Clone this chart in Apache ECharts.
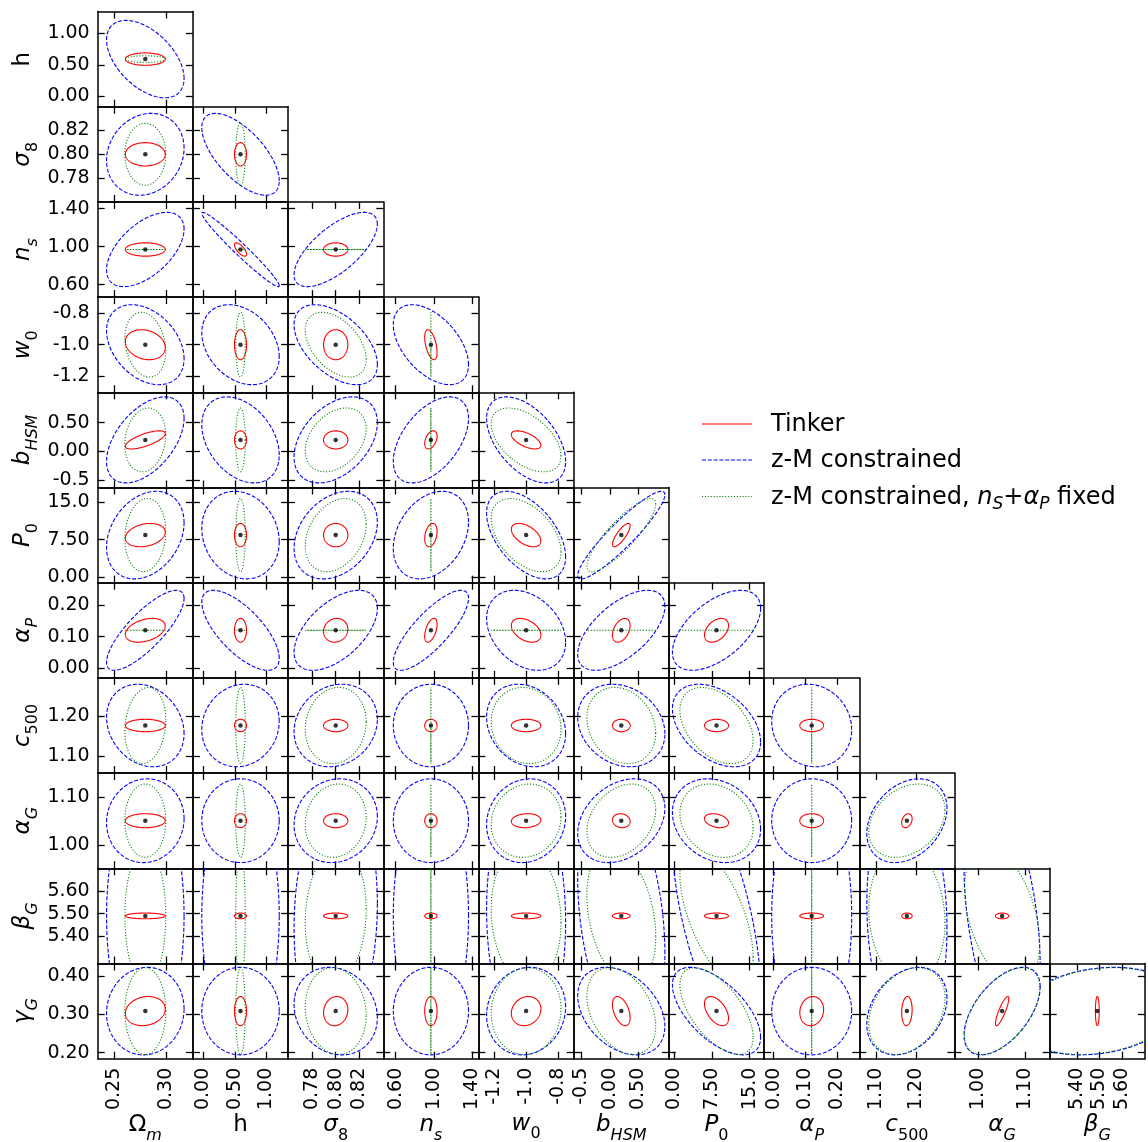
<!DOCTYPE html>
<html>
<head>
<meta charset="utf-8">
<script src="https://cdn.jsdelivr.net/npm/echarts@6/dist/echarts.min.js"></script>
<style>
  html, body { margin: 0; padding: 0; background: #fff; }
  #chart { width: 1148px; height: 1142px; }
</style>
</head>
<body>
<div id="chart"></div>
<script>
// ---- parameters of the forecast (order of the triangle) ----
const paramNames = [
  '{b|Ω}{si|m}', '{b|h}', '{i|σ}{s|8}', '{i|n}{si|s}', '{i|w}{s|0}', '{i|b}{si|HSM}',
  '{i|P}{s|0}', '{i|α}{si|P}', '{i|c}{s|500}', '{i|α}{si|G}', '{i|β}{si|G}', '{i|γ}{si|G}'
];
const fiducial  = [0.28, 0.59, 0.80, 0.97, -1.0, 0.2, 8.4, 0.12, 1.177, 1.051, 5.4905, 0.3081];
const halfRange = [0.0463, 0.75, 0.040, 0.50, 0.30, 0.83, 9.5, 0.15, 0.12, 0.10, 0.21, 0.124];

const tickValues = [
  [0.25, 0.30], [0, 0.5, 1.0], [0.78, 0.80, 0.82], [0.6, 1.0, 1.4], [-1.2, -1.0, -0.8],
  [-0.5, 0, 0.5], [0, 7.5, 15], [0, 0.1, 0.2], [1.1, 1.2], [1.0, 1.1], [5.4, 5.5, 5.6], [0.2, 0.3, 0.4]
];
const tickLabels = [
  ['0.25', '0.30'], ['0.00', '0.50', '1.00'], ['0.78', '0.80', '0.82'], ['0.60', '1.00', '1.40'],
  ['-1.2', '-1.0', '-0.8'], ['-0.5', '0.00', '0.50'], ['0.00', '7.50', '15.0'], ['0.00', '0.10', '0.20'],
  ['1.10', '1.20'], ['1.00', '1.10'], ['5.40', '5.50', '5.60'], ['0.20', '0.30', '0.40']
];

// ---- contour half-extents (x: parameter on the horizontal axis, y: on the vertical axis) ----
const tinkerSpreadX = [0.0194, 0.095, 0.0102, 0.065, 0.093, 0.154, 2.4, 0.0375, 0.0132, 0.014, 0.0084, 0.038];
const tinkerSpreadY = [0.0194, 0.0975, 0.0098, 0.070, 0.0945, 0.158, 2.33, 0.0375, 0.0156, 0.0147, 0.0126, 0.038];
const zmSpreadX     = [0.0377, 0.61, 0.035, 0.395, 0.249, 0.76, 8.8, 0.126, 0.101, 0.080, 0.37, 0.114];
const zmSpreadY     = [0.0377, 0.61, 0.0344, 0.39, 0.252, 0.75, 8.74, 0.126, 0.104, 0.088, 0.55, 0.114];
const fixedSpreadX  = [0.0199, 0.075, 0.0256, 0, 0.22, 0.60, 7.3, 0, 0.096, 0.079, 0.357, 0.113];
const fixedSpreadY  = [0.0199, 0.0525, 0.026, 0, 0.204, 0.556, 7.3, 0, 0.096, 0.077, 0.30, 0.113];

// ---- correlation coefficients, row parameter (h ... γG) against column parameter (Ωm ... βG) ----
const tinkerCorr = [
  [0],
  [0, 0],
  [0, -0.7, 0],
  [-0.2, 0, 0, -0.5],
  [0.7, 0, 0, 0.4, -0.6],
  [0.25, 0, 0, 0.3, -0.5, 0.8],
  [0.35, 0, 0.1, 0.5, -0.4, 0.4, 0.4],
  [0, 0, 0, 0, 0, 0, 0, 0],
  [0, 0, 0, 0, 0.1, -0.1, -0.3, 0, 0.3],
  [0, 0, 0, 0, 0, 0, 0, 0, 0, 0],
  [0.15, 0, 0.1, 0, 0.15, -0.45, -0.5, 0.1, 0.1, 0.85, 0]
];
const zmCorr = [
  [-0.5],
  [0.15, -0.65],
  [0.55, -0.975, 0.68],
  [-0.35, -0.3, -0.5, -0.5],
  [0.5, -0.35, 0.4, 0.5, -0.5],
  [0.28, -0.15, 0.3, 0.3, -0.5, 0.92],
  [0.8, -0.7, 0.55, 0.8, -0.3, 0.6, 0.55],
  [-0.2, 0.1, 0.15, 0, -0.2, -0.2, -0.4, -0.1],
  [0.05, 0, 0.1, 0, 0.1, 0.3, -0.2, 0, 0.3],
  [0, 0, 0.1, 0, -0.05, -0.3, -0.6, 0, -0.1, -0.4],
  [0.05, 0, -0.15, 0, 0.1, -0.35, -0.6, 0, 0.3, 0.55, 0.2]
];
const fixedCorr = [
  [0],
  [0, 0],
  [0, 0, 0],
  [-0.2, 0, -0.45, 0],
  [0.15, 0, 0.35, 0, -0.5],
  [0.1, 0, 0.3, 0, -0.45, 0.85],
  [0, 0, 0, 0, 0, 0, 0],
  [0.15, 0, 0.1, 0, -0.1, -0.2, -0.4, 0],
  [0, 0, 0.1, 0, 0.1, 0.3, -0.2, 0, 0.3],
  [0, 0, 0.1, 0, -0.1, -0.3, -0.6, 0, -0.1, -0.4],
  [0, 0, -0.1, 0, 0.05, -0.35, -0.6, 0, 0.3, 0.55, 0.2]
];

const legendNames = ['Tinker', 'z-M constrained', 'z-M constrained, {i|n}{si|S}+{i|α}{si|P} fixed'];

// ---- layout ----
const FONT = 'DejaVu Sans';
const PANEL = 95.2, LEFT0 = 97.7, TOP0 = 11.5;

const rich = {
  b:  { fontFamily: FONT, fontSize: 23, color: '#000', lineHeight: 36, verticalAlign: 'middle' },
  i:  { fontFamily: FONT, fontSize: 23, fontStyle: 'italic', color: '#000', lineHeight: 36, verticalAlign: 'middle' },
  s:  { fontFamily: FONT, fontSize: 16, color: '#000', lineHeight: 20, verticalAlign: 'bottom' },
  si: { fontFamily: FONT, fontSize: 16, fontStyle: 'italic', color: '#000', lineHeight: 20, verticalAlign: 'bottom' }
};

const styles = [
  { spreadX: tinkerSpreadX, spreadY: tinkerSpreadY, corr: tinkerCorr, color: '#ff0000', dash: null },
  { spreadX: zmSpreadX, spreadY: zmSpreadY, corr: zmCorr, color: '#0000ff', dash: [4, 1.8] },
  { spreadX: fixedSpreadX, spreadY: fixedSpreadY, corr: fixedCorr, color: '#008000', dash: [1.1, 1.8] }
];

function labelFor(p) {
  return function (v) {
    const tv = tickValues[p];
    let best = 0;
    for (let i = 1; i < tv.length; i++) if (Math.abs(tv[i] - v) < Math.abs(tv[best] - v)) best = i;
    return tickLabels[p][best];
  };
}

function axis(gi, p, pos, vertical, showLabel, showName) {
  return {
    type: 'value', gridIndex: gi, position: pos,
    min: fiducial[p] - halfRange[p], max: fiducial[p] + halfRange[p],
    axisLine: { show: true, onZero: false, lineStyle: { color: '#000', width: 1.5 } },
    splitLine: { show: false },
    axisTick: { show: true, inside: true, length: 7, customValues: tickValues[p],
                lineStyle: { color: '#000', width: 1.3 } },
    axisLabel: { show: showLabel, customValues: tickValues[p], formatter: labelFor(p),
                 fontFamily: FONT, fontSize: 19, color: '#000', margin: vertical ? 8 : 9,
                 rotate: vertical ? 0 : 90 },
    name: showName ? paramNames[p] : '',
    nameLocation: 'middle',
    nameGap: vertical ? 57 : 47,
    nameRotate: vertical ? 90 : 0,
    nameTextStyle: { fontFamily: FONT, fontSize: 23, color: '#000', rich: rich }
  };
}

function ellipseRenderer(st) {
  return function (params, api) {
    const cx = api.value(0), cy = api.value(1), ex = api.value(2), ey = api.value(3), rho = api.value(4);
    const q = Math.sqrt(Math.max(0, 1 - rho * rho));
    const pts = [];
    const n = 240;
    for (let i = 0; i <= n; i++) {
      const t = i / n * 2 * Math.PI;
      pts.push(api.coord([cx + ex * Math.cos(t), cy + ey * (rho * Math.cos(t) + q * Math.sin(t))]));
    }
    const cs = params.coordSys;
    return {
      type: 'polyline',
      shape: { points: pts },
      clipPath: { type: 'rect', shape: { x: cs.x, y: cs.y, width: cs.width, height: cs.height } },
      style: { fill: 'none', stroke: st.color, lineWidth: 1.1, lineDash: st.dash }
    };
  };
}

const grids = [], xAxes = [], yAxes = [], series = [];
let g = 0;
for (let r = 1; r < 12; r++) {
  for (let c = 0; c < r; c++) {
    grids.push({
      left: LEFT0 + c * PANEL, top: TOP0 + (r - 1) * PANEL, width: PANEL, height: PANEL,
      containLabel: false, outerBoundsMode: 'none', show: false
    });
    const bottomRow = (r === 11), leftCol = (c === 0);
    xAxes.push(axis(g, c, 'bottom', false, bottomRow, bottomRow));
    xAxes.push(axis(g, c, 'top', false, false, false));
    yAxes.push(axis(g, r, 'left', true, leftCol, leftCol));
    yAxes.push(axis(g, r, 'right', true, false, false));

    styles.forEach(function (st) {
      series.push({
        type: 'custom', xAxisIndex: 2 * g, yAxisIndex: 2 * g, silent: true,
        renderItem: ellipseRenderer(st),
        data: [[fiducial[c], fiducial[r], st.spreadX[c], st.spreadY[r], st.corr[r - 1][c]]]
      });
    });
    series.push({
      type: 'scatter', xAxisIndex: 2 * g, yAxisIndex: 2 * g, silent: true,
      symbol: 'circle', symbolSize: 4.5, itemStyle: { color: '#000' }, z: 5,
      data: [[fiducial[c], fiducial[r]]]
    });
    g++;
  }
}

// legend drawn as plain graphics
const legendY = [424, 460, 496.5];
const graphic = [];
styles.forEach(function (st, i) {
  graphic.push({
    type: 'line', x: 702, y: legendY[i],
    shape: { x1: 0, y1: 0, x2: 50, y2: 0 },
    style: { stroke: st.color, lineWidth: 1.1, lineDash: st.dash }
  });
  graphic.push({
    type: 'text', x: 771, y: legendY[i] + 1,
    style: { text: legendNames[i], fontFamily: FONT, fontSize: 24, fill: '#000', verticalAlign: 'middle', rich: {
      i:  { fontFamily: FONT, fontSize: 24, fontStyle: 'italic', fill: '#000', lineHeight: 32, verticalAlign: 'middle' },
      si: { fontFamily: FONT, fontSize: 17, fontStyle: 'italic', fill: '#000', lineHeight: 18, verticalAlign: 'bottom' }
    } }
  });
});

const chart = echarts.init(document.getElementById('chart'), null, { renderer: 'canvas' });
chart.setOption({
  animation: false,
  backgroundColor: '#fff',
  grid: grids,
  xAxis: xAxes,
  yAxis: yAxes,
  series: series,
  graphic: graphic
});
</script>
</body>
</html>
